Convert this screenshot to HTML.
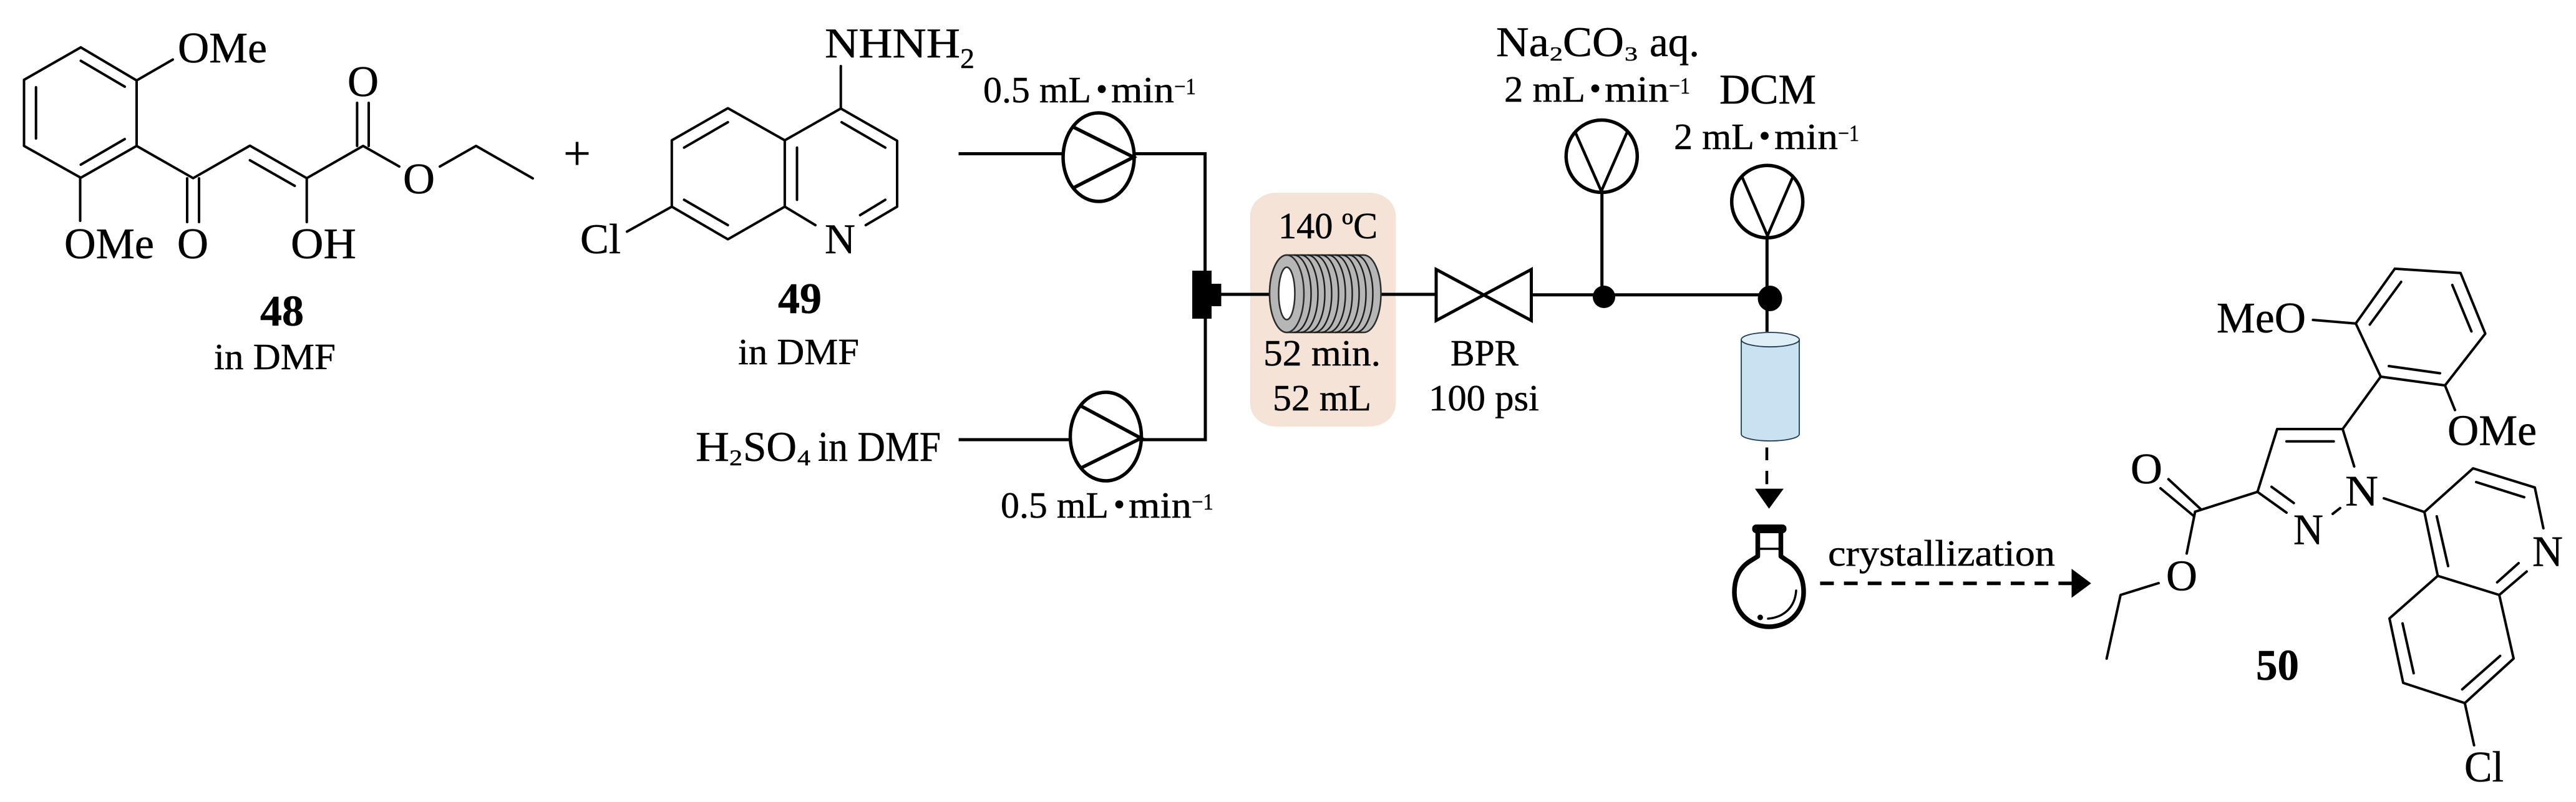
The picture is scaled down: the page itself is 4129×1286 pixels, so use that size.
<!DOCTYPE html>
<html lang="en">
<head>
<meta charset="utf-8">
<title>Flow synthesis of compound 50</title>
<style>
html,body{margin:0;padding:0;background:#fff;width:4129px;height:1286px;overflow:hidden}
svg{display:block}
text{font-family:"Liberation Serif",serif;fill:#000;stroke:#000;stroke-width:.5}
.a{font-size:70px}
.n{font-size:68px}
.l{font-size:59px}
.u{font-size:37px}
.b{font-size:70px;font-weight:bold}
.bond line,.bond polyline{stroke:#000;stroke-width:4;fill:none;stroke-linecap:round;stroke-linejoin:round}
.pipe{stroke:#000;fill:none;stroke-linejoin:miter}
</style>
</head>
<body>
<svg width="4129" height="1286" viewBox="0 0 4129 1286" xmlns="http://www.w3.org/2000/svg">
<rect width="4129" height="1286" fill="#fff"/>

<!-- Compound 48 -->
<g class="bond">
<polyline points="129.5,76 219,129 219,234 129.5,285 38.5,234 38.5,128 129.5,76"/>
<line x1="129.5" y1="97.5" x2="200" y2="139"/>
<line x1="200" y1="223" x2="129.5" y2="264"/>
<line x1="57.7" y1="140" x2="57.7" y2="222"/>
<line x1="219" y1="129" x2="277" y2="95.5"/>
<line x1="128.5" y1="285" x2="128.5" y2="354"/>
<polyline points="219,234 309.6,285.7 400.6,233.6 491.7,285.7 582,234 640,267"/>
<line x1="400.6" y1="257" x2="472.4" y2="298"/>
<line x1="572.4" y1="165" x2="572.4" y2="234"/>
<line x1="591" y1="165" x2="591" y2="234"/>
<polyline points="705,267 763,234 854,286"/>
<line x1="300" y1="286" x2="300" y2="356"/>
<line x1="319" y1="286" x2="319" y2="356"/>
<line x1="491.7" y1="285.7" x2="491.7" y2="356"/>
</g>
<text class="a" x="285" y="100" textLength="143" lengthAdjust="spacingAndGlyphs">OMe</text>
<text class="a" x="103" y="414" textLength="144" lengthAdjust="spacingAndGlyphs">OMe</text>
<text class="a" x="557" y="154" textLength="50" lengthAdjust="spacingAndGlyphs">O</text>
<text class="a" x="646" y="310" textLength="51" lengthAdjust="spacingAndGlyphs">O</text>
<text class="a" x="284" y="414" textLength="50" lengthAdjust="spacingAndGlyphs">O</text>
<text class="a" x="466" y="414" textLength="105" lengthAdjust="spacingAndGlyphs">OH</text>
<text x="903" y="272" font-size="78">+</text>
<text class="b" x="417" y="522" textLength="70" lengthAdjust="spacingAndGlyphs">48</text>
<text class="l" x="343" y="592" textLength="195" lengthAdjust="spacingAndGlyphs">in DMF</text>

<!-- Compound 49 -->
<g class="bond">
<polyline points="1347.7,174 1257.9,225 1166.7,173.5 1076.8,225 1076.8,331.4 1166.7,383.7 1257.9,331.4 1257.9,225"/>
<polyline points="1347.7,106 1347.7,174 1438,225.7 1438,331.4 1387.7,361"/>
<line x1="1257.9" y1="331.4" x2="1307" y2="361"/>
<line x1="1166.7" y1="196" x2="1096.5" y2="236.7"/>
<line x1="1096.5" y1="320.4" x2="1166.7" y2="361"/>
<line x1="1277.5" y1="236.7" x2="1277.5" y2="320.4"/>
<line x1="1349" y1="196" x2="1419" y2="236.7"/>
<line x1="1419" y1="320.4" x2="1378.6" y2="345"/>
<line x1="1076.8" y1="331.4" x2="1005" y2="371.4"/>
</g>
<text class="n" x="1322" y="92" textLength="217" lengthAdjust="spacingAndGlyphs">NHNH</text>
<text x="1539" y="109" font-size="46" textLength="23" lengthAdjust="spacingAndGlyphs">2</text>
<text class="n" x="1322" y="406" textLength="49" lengthAdjust="spacingAndGlyphs">N</text>
<text class="n" x="930" y="406" textLength="65" lengthAdjust="spacingAndGlyphs">Cl</text>
<text class="b" x="1247" y="502" textLength="70" lengthAdjust="spacingAndGlyphs">49</text>
<text class="l" x="1183" y="584" textLength="194" lengthAdjust="spacingAndGlyphs">in DMF</text>

<!-- Upper feed -->
<text class="l" x="1576" y="164" textLength="173" lengthAdjust="spacingAndGlyphs">0.5 mL</text>
<text x="1766" y="168" font-size="76" font-weight="bold" text-anchor="middle">·</text>
<text class="l" x="1781" y="164" textLength="101" lengthAdjust="spacingAndGlyphs">min</text>
<text class="u" x="1882" y="151" textLength="35" lengthAdjust="spacingAndGlyphs">−1</text>
<path class="pipe" stroke-width="5" d="M1536.5 246.5H1702M1820 246.5H1931.6V434"/>
<ellipse cx="1761" cy="252" rx="57" ry="71" fill="#fff" stroke="#000" stroke-width="5.5"/>
<polyline class="pipe" stroke-width="5.5" points="1721,204 1817,252 1721,301"/>

<!-- Lower feed -->
<text class="n" x="1115" y="739" textLength="54" lengthAdjust="spacingAndGlyphs">H</text>
<text x="1169" y="746" font-size="36" textLength="21" lengthAdjust="spacingAndGlyphs">2</text>
<text class="n" x="1191" y="739" textLength="86" lengthAdjust="spacingAndGlyphs">SO</text>
<text x="1278" y="746" font-size="36" textLength="21" lengthAdjust="spacingAndGlyphs">4</text>
<text class="n" x="1311" y="739" textLength="197" lengthAdjust="spacingAndGlyphs">in DMF</text>
<path class="pipe" stroke-width="5" d="M1536.6 705H1713M1832 705H1932V511"/>
<ellipse cx="1772.5" cy="700" rx="57" ry="71" fill="#fff" stroke="#000" stroke-width="5.5"/>
<polyline class="pipe" stroke-width="5.5" points="1732,650.7 1829,702.7 1732,750.7"/>
<text class="l" x="1604" y="830" textLength="173" lengthAdjust="spacingAndGlyphs">0.5 mL</text>
<text x="1794" y="834" font-size="76" font-weight="bold" text-anchor="middle">·</text>
<text class="l" x="1809" y="830" textLength="101" lengthAdjust="spacingAndGlyphs">min</text>
<text class="u" x="1910" y="817" textLength="35" lengthAdjust="spacingAndGlyphs">−1</text>

<!-- Mixer -->
<rect x="1911" y="434" width="31" height="77" fill="#000"/>
<rect x="1942" y="455" width="15.5" height="36" fill="#000"/>

<!-- Heated coil -->
<rect x="2004" y="309" width="233" height="375" rx="42" ry="36" fill="#f5e3d7"/>
<path class="pipe" stroke-width="5" d="M1957 472H2040M2210 472H2302"/>
<path d="M2062.5 409H2186A27.5 62 0 0 1 2186 533H2062.5A27.5 62 0 0 1 2062.5 409Z" fill="#b6b6b6" stroke="#2b2b2b" stroke-width="2.5"/>
<g fill="none" stroke="#1c1c1c" stroke-width="2.4">
<path d="M2074 409A27.5 62 0 0 1 2074 533"/>
<path d="M2085 409A27.5 62 0 0 1 2085 533"/>
<path d="M2096 409A27.5 62 0 0 1 2096 533"/>
<path d="M2107 409A27.5 62 0 0 1 2107 533"/>
<path d="M2118 409A27.5 62 0 0 1 2118 533"/>
<path d="M2129 409A27.5 62 0 0 1 2129 533"/>
<path d="M2140 409A27.5 62 0 0 1 2140 533"/>
<path d="M2151 409A27.5 62 0 0 1 2151 533"/>
<path d="M2162 409A27.5 62 0 0 1 2162 533"/>
<path d="M2173 409A27.5 62 0 0 1 2173 533"/>
</g>
<ellipse cx="2062.5" cy="471" rx="27.5" ry="62" fill="#b6b6b6" stroke="#2b2b2b" stroke-width="2.5"/>
<ellipse cx="2062.5" cy="470.5" rx="13" ry="42" fill="#fff" stroke="#2b2b2b" stroke-width="2.5"/>
<text class="l" x="2049" y="382" textLength="159" lengthAdjust="spacingAndGlyphs">140 ºC</text>
<text class="l" x="2025" y="586" textLength="188" lengthAdjust="spacingAndGlyphs">52 min.</text>
<text class="l" x="2040" y="658" textLength="158" lengthAdjust="spacingAndGlyphs">52 mL</text>

<!-- BPR -->
<polygon points="2302,432 2454.5,514 2454.5,432 2302,514" fill="#fff" stroke="#000" stroke-width="5" stroke-linejoin="miter"/>
<text class="l" x="2325" y="586" textLength="109" lengthAdjust="spacingAndGlyphs">BPR</text>
<text class="l" x="2290" y="658" textLength="177" lengthAdjust="spacingAndGlyphs">100 psi</text>
<path class="pipe" stroke-width="5" d="M2457 472.7H2832M2567.7 309V470M2832.3 382V532"/>
<ellipse cx="2571" cy="476" rx="18" ry="18" fill="#000"/>
<ellipse cx="2837" cy="478.5" rx="19.5" ry="20.5" fill="#000"/>

<!-- Pump 3 -->
<text class="n" x="2398" y="90" textLength="85" lengthAdjust="spacingAndGlyphs">Na</text>
<text x="2484" y="97" font-size="32" textLength="21" lengthAdjust="spacingAndGlyphs">2</text>
<text class="n" x="2505" y="90" textLength="98" lengthAdjust="spacingAndGlyphs">CO</text>
<text x="2604" y="97" font-size="32" textLength="21" lengthAdjust="spacingAndGlyphs">3</text>
<text class="n" x="2644" y="90" textLength="80" lengthAdjust="spacingAndGlyphs">aq.</text>
<text class="l" x="2411" y="163" textLength="130" lengthAdjust="spacingAndGlyphs">2 mL</text>
<text x="2557" y="167" font-size="76" font-weight="bold" text-anchor="middle">·</text>
<text class="l" x="2572" y="163" textLength="103" lengthAdjust="spacingAndGlyphs">min</text>
<text class="u" x="2675" y="150" textLength="34" lengthAdjust="spacingAndGlyphs">−1</text>
<ellipse cx="2567.3" cy="250.5" rx="57" ry="58" fill="#fff" stroke="#000" stroke-width="5.5"/>
<polyline class="pipe" stroke-width="4.5" points="2524.6,211 2566.7,306.7 2608,212"/>

<!-- Pump 4 -->
<text class="n" x="2756" y="166" textLength="155" lengthAdjust="spacingAndGlyphs">DCM</text>
<text class="l" x="2683" y="239" textLength="129" lengthAdjust="spacingAndGlyphs">2 mL</text>
<text x="2828.5" y="243" font-size="76" font-weight="bold" text-anchor="middle">·</text>
<text class="l" x="2844" y="239" textLength="102" lengthAdjust="spacingAndGlyphs">min</text>
<text class="u" x="2946" y="226" textLength="34" lengthAdjust="spacingAndGlyphs">−1</text>
<ellipse cx="2832.7" cy="323.3" rx="57" ry="58" fill="#fff" stroke="#000" stroke-width="5.5"/>
<polyline class="pipe" stroke-width="4.5" points="2791.6,282 2833,378 2874,283"/>

<!-- Separator cartridge -->
<path d="M2791 544.6V696C2791 702 2811 707 2837.5 707S2884 702 2884 696V544.6Z" fill="#c9e2f2" stroke="#1f3a4d" stroke-width="1.8"/>
<ellipse cx="2837.5" cy="544.6" rx="46.5" ry="11.6" fill="#deeff8" stroke="#1f3a4d" stroke-width="1.8"/>
<path class="pipe" stroke-width="4.5" d="M2832 717.5V738M2832 755V776.4"/>
<polygon points="2813,783.6 2859,783.6 2835.5,815.7" fill="#000"/>

<!-- Flask -->
<g fill="none" stroke="#000" stroke-linejoin="round" stroke-linecap="round">
<rect x="2812" y="844.5" width="48" height="7" rx="3" stroke-width="7"/>
<path stroke-width="7.5" d="M2817.5 853V892L2808 898C2790 908 2780 925 2780 950C2780 982 2805 1005 2835.5 1005C2866 1005 2891 982 2891 950C2891 925 2881 908 2863 898L2854.5 892V853"/>
<path stroke-width="3.5" d="M2817 880H2855"/>
<path stroke-width="3.5" d="M2879 947C2877 975 2858 990 2834 992"/>
</g>
<circle cx="2821.4" cy="990" r="4.5" fill="#000"/>

<!-- Crystallization arrow -->
<text class="l" x="2930" y="907" textLength="364" lengthAdjust="spacingAndGlyphs">crystallization</text>
<line x1="2917.4" y1="935.4" x2="3321" y2="935.4" stroke="#000" stroke-width="5.7" stroke-dasharray="22 16.2"/>
<polygon points="3320.5,912 3320.5,958.6 3351.8,935.4" fill="#000"/>

<!-- Compound 50 -->
<g class="bond">
<polyline points="3838.6,430.9 3944,437.8 3983.6,535 3919,618 3816,604 3776,518.7 3838.6,430.9"/>
<line x1="3848.7" y1="452" x2="3798.4" y2="520.5"/>
<line x1="3930.7" y1="457" x2="3961.4" y2="531.4"/>
<line x1="3829" y1="587" x2="3911" y2="598.5"/>
<line x1="3776" y1="518.7" x2="3707.4" y2="513"/>
<line x1="3919" y1="618" x2="3935" y2="657.5"/>
<line x1="3816" y1="604" x2="3755" y2="688"/>
<polyline points="3773.5,748 3755,688 3650,688 3618.5,788.7 3665,822"/>
<line x1="3665" y1="707.7" x2="3740.7" y2="707.7"/>
<line x1="3641" y1="780.6" x2="3676.7" y2="806.6"/>
<line x1="3739" y1="824" x2="3751" y2="814.7"/>
<line x1="3618.5" y1="788.7" x2="3518.5" y2="820.5"/>
<line x1="3527.5" y1="816.4" x2="3475.7" y2="768.4"/>
<line x1="3517" y1="828" x2="3463" y2="783"/>
<line x1="3518.5" y1="820.5" x2="3505" y2="887.5"/>
<polyline points="3460,935 3399,954 3376.7,1056"/>
<line x1="3821" y1="799" x2="3886" y2="821"/>
<polyline points="4076.7,847 4063,781.7 3964,751 3886,821 3907.4,923.4 4006,954 4050,916.4"/>
<line x1="4037" y1="903" x2="4002.6" y2="933.8"/>
<line x1="3905.8" y1="828" x2="3924" y2="907.7"/>
<line x1="3969" y1="773" x2="4046" y2="797.3"/>
<polyline points="3907.4,923.4 3830,991.6 3852,1095 3950.8,1127.4 4029,1056 4006,954"/>
<line x1="3851" y1="999.7" x2="3868.8" y2="1079.4"/>
<line x1="3946.6" y1="1105.4" x2="4007.4" y2="1051.7"/>
<line x1="3950.8" y1="1127.4" x2="3965.6" y2="1195"/>
</g>
<text class="a" x="3553" y="533" textLength="143" lengthAdjust="spacingAndGlyphs">MeO</text>
<text class="a" x="3923" y="713.5" textLength="143" lengthAdjust="spacingAndGlyphs">OMe</text>
<text class="a" x="3415" y="775" textLength="51" lengthAdjust="spacingAndGlyphs">O</text>
<text class="a" x="3472" y="946.5" textLength="50" lengthAdjust="spacingAndGlyphs">O</text>
<text class="a" x="3759" y="810.5" textLength="53" lengthAdjust="spacingAndGlyphs">N</text>
<text class="a" x="3676" y="872.5" textLength="48" lengthAdjust="spacingAndGlyphs">N</text>
<text class="a" x="4059" y="907.5" textLength="49" lengthAdjust="spacingAndGlyphs">N</text>
<text class="a" x="3950" y="1253" textLength="63" lengthAdjust="spacingAndGlyphs">Cl</text>
<text class="b" x="3616" y="1090" textLength="69" lengthAdjust="spacingAndGlyphs">50</text>
</svg>
</body>
</html>
